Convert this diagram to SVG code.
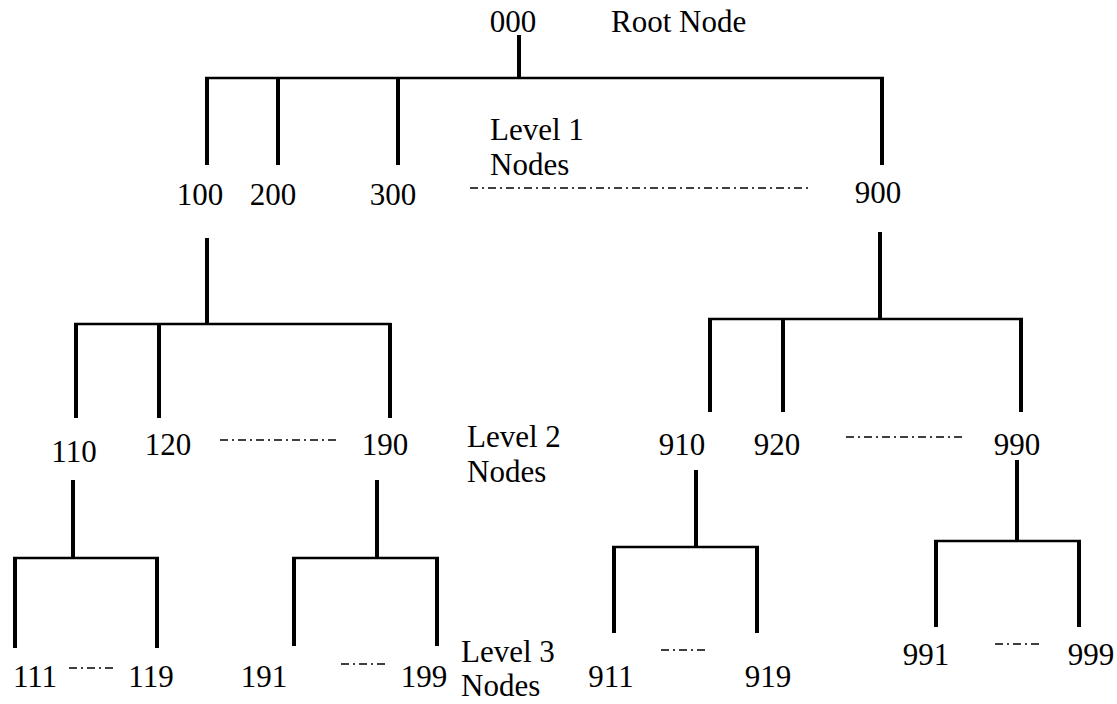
<svg xmlns="http://www.w3.org/2000/svg" width="1117" height="704" viewBox="0 0 1117 704">
  <style>
    .v { stroke: #000; stroke-width: 4; fill: none; }
    .h { stroke: #000; stroke-width: 2.5; fill: none; }
    .dd { stroke: #000; stroke-width: 1.5; stroke-dasharray: 8 4 2 4; fill: none; }
  </style>
  <rect width="1117" height="704" fill="#fff"/>

  <!-- tree connectors -->
  <g id="connectors">
    <!-- root to level 1 -->
    <line class="v" x1="519" y1="35" x2="519" y2="78"/>
    <line class="h" x1="205" y1="78" x2="884" y2="78"/>
    <line class="v" x1="207" y1="77" x2="207" y2="165"/>
    <line class="v" x1="278" y1="77" x2="278" y2="165"/>
    <line class="v" x1="398" y1="77" x2="398" y2="165"/>
    <line class="v" x1="882" y1="77" x2="882" y2="165"/>
    <line class="dd" x1="470" y1="188" x2="808" y2="188"/>

    <!-- 100 to level 2 -->
    <line class="v" x1="207" y1="238" x2="207" y2="324"/>
    <line class="h" x1="74" y1="324" x2="391" y2="324"/>
    <line class="v" x1="76" y1="323" x2="76" y2="418"/>
    <line class="v" x1="159" y1="323" x2="159" y2="418"/>
    <line class="v" x1="390" y1="323" x2="390" y2="418"/>
    <line class="dd" x1="220" y1="440" x2="338" y2="440"/>

    <!-- 900 to level 2 -->
    <line class="v" x1="880" y1="232" x2="880" y2="319"/>
    <line class="h" x1="708" y1="319" x2="1023" y2="319"/>
    <line class="v" x1="710" y1="318" x2="710" y2="412"/>
    <line class="v" x1="783" y1="318" x2="783" y2="412"/>
    <line class="v" x1="1021" y1="318" x2="1021" y2="412"/>
    <line class="dd" x1="846" y1="437" x2="964" y2="437"/>

    <!-- 110 to level 3 -->
    <line class="v" x1="73" y1="480" x2="73" y2="558"/>
    <line class="h" x1="13" y1="558" x2="159" y2="558"/>
    <line class="v" x1="15" y1="557" x2="15" y2="648"/>
    <line class="v" x1="157" y1="557" x2="157" y2="648"/>
    <line class="dd" x1="69" y1="668" x2="116" y2="668"/>

    <!-- 190 to level 3 -->
    <line class="v" x1="377" y1="480" x2="377" y2="558"/>
    <line class="h" x1="292" y1="558" x2="439" y2="558"/>
    <line class="v" x1="294" y1="557" x2="294" y2="646"/>
    <line class="v" x1="437" y1="557" x2="437" y2="646"/>
    <line class="dd" x1="341" y1="664" x2="386" y2="664"/>

    <!-- 910 to level 3 -->
    <line class="v" x1="696" y1="470" x2="696" y2="547"/>
    <line class="h" x1="612" y1="547" x2="759" y2="547"/>
    <line class="v" x1="614" y1="546" x2="614" y2="633"/>
    <line class="v" x1="757" y1="546" x2="757" y2="633"/>
    <line class="dd" x1="661" y1="650" x2="707" y2="650"/>

    <!-- 990 to level 3 -->
    <line class="v" x1="1017" y1="460" x2="1017" y2="541"/>
    <line class="h" x1="934" y1="541" x2="1081" y2="541"/>
    <line class="v" x1="936" y1="540" x2="936" y2="627"/>
    <line class="v" x1="1079" y1="540" x2="1079" y2="627"/>
    <line class="dd" x1="995" y1="644" x2="1042" y2="644"/>
  </g>

  <!-- root -->
  <g id="node-000"><text x="513" y="32" text-anchor="middle" font-size="31" font-family="'Liberation Serif'">000</text></g>
  <g id="label-root"><text x="611" y="32" font-size="31" font-family="'Liberation Serif'">Root Node</text></g>

  <!-- level 1 -->
  <g id="label-level1">
    <text x="490" y="140" font-size="31" font-family="'Liberation Serif'">Level 1</text>
    <text x="490" y="175" font-size="31" font-family="'Liberation Serif'">Nodes</text>
  </g>
  <g id="node-100"><text x="200" y="205" text-anchor="middle" font-size="31" font-family="'Liberation Serif'">100</text></g>
  <g id="node-200"><text x="273" y="205" text-anchor="middle" font-size="31" font-family="'Liberation Serif'">200</text></g>
  <g id="node-300"><text x="393" y="205" text-anchor="middle" font-size="31" font-family="'Liberation Serif'">300</text></g>
  <g id="node-900"><text x="878" y="203" text-anchor="middle" font-size="31" font-family="'Liberation Serif'">900</text></g>

  <!-- level 2 -->
  <g id="label-level2">
    <text x="467" y="447" font-size="31" font-family="'Liberation Serif'">Level 2</text>
    <text x="467" y="482" font-size="31" font-family="'Liberation Serif'">Nodes</text>
  </g>
  <g id="node-110"><text x="74" y="462" text-anchor="middle" font-size="31" font-family="'Liberation Serif'">110</text></g>
  <g id="node-120"><text x="168" y="455" text-anchor="middle" font-size="31" font-family="'Liberation Serif'">120</text></g>
  <g id="node-190"><text x="385" y="455" text-anchor="middle" font-size="31" font-family="'Liberation Serif'">190</text></g>
  <g id="node-910"><text x="682" y="455" text-anchor="middle" font-size="31" font-family="'Liberation Serif'">910</text></g>
  <g id="node-920"><text x="777" y="455" text-anchor="middle" font-size="31" font-family="'Liberation Serif'">920</text></g>
  <g id="node-990"><text x="1017" y="455" text-anchor="middle" font-size="31" font-family="'Liberation Serif'">990</text></g>

  <!-- level 3 -->
  <g id="label-level3">
    <text x="461" y="662" font-size="31" font-family="'Liberation Serif'">Level 3</text>
    <text x="461" y="696" font-size="31" font-family="'Liberation Serif'">Nodes</text>
  </g>
  <g id="node-111"><text x="35" y="687" text-anchor="middle" font-size="31" font-family="'Liberation Serif'">111</text></g>
  <g id="node-119"><text x="151" y="687" text-anchor="middle" font-size="31" font-family="'Liberation Serif'">119</text></g>
  <g id="node-191"><text x="264" y="687" text-anchor="middle" font-size="31" font-family="'Liberation Serif'">191</text></g>
  <g id="node-199"><text x="424" y="687" text-anchor="middle" font-size="31" font-family="'Liberation Serif'">199</text></g>
  <g id="node-911"><text x="611" y="687" text-anchor="middle" font-size="31" font-family="'Liberation Serif'">911</text></g>
  <g id="node-919"><text x="768" y="687" text-anchor="middle" font-size="31" font-family="'Liberation Serif'">919</text></g>
  <g id="node-991"><text x="926" y="665" text-anchor="middle" font-size="31" font-family="'Liberation Serif'">991</text></g>
  <g id="node-999"><text x="1091" y="665" text-anchor="middle" font-size="31" font-family="'Liberation Serif'">999</text></g>
</svg>
